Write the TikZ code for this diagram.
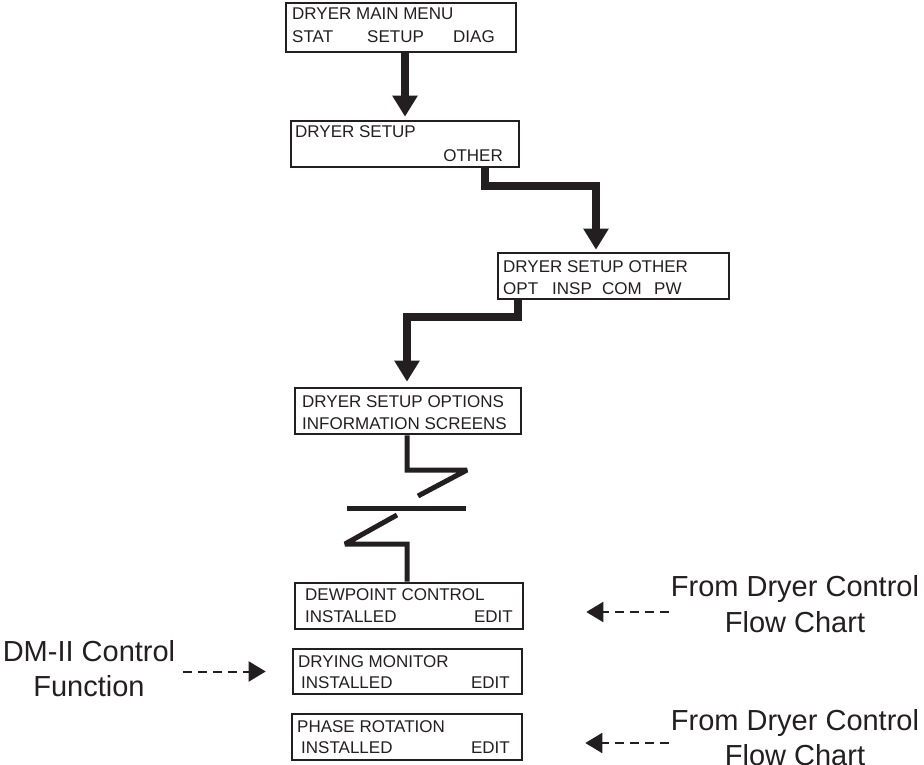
\documentclass[tikz,border=0pt]{standalone}
\usepackage{fontspec}
\setmainfont{Liberation Sans}
\usetikzlibrary{arrows.meta}
\definecolor{ink}{HTML}{231F20}

\begin{document}
\begin{tikzpicture}[x=1pt, y=-1pt,
  screen/.style={draw=ink, line width=2.6pt, rectangle, inner sep=0pt},
  txt/.style={font=\fontsize{17}{20}\selectfont, text=ink, inner sep=0pt, anchor=base west},
  txtR/.style={txt, anchor=base east},
  side/.style={font=\fontsize{29}{35.5}\selectfont, text=ink, inner sep=0pt, align=center},
  flow/.style={draw=ink, line width=8pt, line join=miter, -{Triangle[length=21pt,width=24pt]}},
  brk/.style={draw=ink, line width=5pt, line join=miter, miter limit=1.5},
  feed/.style={draw=ink, line width=2pt, dash pattern=on 9pt off 6pt, -{Triangle[length=17pt,width=20pt]}}
]
\useasboundingbox (0,0) rectangle (924,765);

% screens
\node[screen, minimum width=230, minimum height=49] (main) at (401,27.5) {};
\node[txt] (main1) at (292,20) {DRYER MAIN MENU};
\node[txt] (main2) at (292,43) {STAT};
\node[txt] (main3) at (367,43) {SETUP};
\node[txt] (main4) at (453,43) {DIAG};

\node[screen, minimum width=228, minimum height=46] (setup) at (405,144) {};
\node[txt] (setup1) at (295,138) {DRYER SETUP};
\node[txtR] (setup2) at (503,161) {OTHER};

\node[screen, minimum width=231, minimum height=46] (other) at (613.5,276) {};
\node[txt] (other1) at (503,272) {DRYER SETUP OTHER};
\node[txt] (other2) at (503,294) {OPT};
\node[txt] (other3) at (552,294) {INSP};
\node[txt] (other4) at (602,294) {COM};
\node[txt] (other5) at (654,294) {PW};

\node[screen, minimum width=226, minimum height=46] (options) at (408,411) {};
\node[txt] (options1) at (302,407) {DRYER SETUP OPTIONS};
\node[txt] (options2) at (302,429) {INFORMATION SCREENS};

\node[screen, minimum width=228, minimum height=46] (dew) at (409,606) {};
\node[txt] (dew1) at (305,600) {DEWPOINT CONTROL};
\node[txt] (dew2) at (305,622) {INSTALLED};
\node[txtR] (dew3) at (513,622) {EDIT};

\node[screen, minimum width=229, minimum height=45] (dm) at (407.5,671.5) {};
\node[txt] (dm1) at (298,667) {DRYING MONITOR};
\node[txt] (dm2) at (301,688) {INSTALLED};
\node[txtR] (dm3) at (510,688) {EDIT};

\node[screen, minimum width=230, minimum height=46] (phase) at (407,737) {};
\node[txt] (phase1) at (297,732) {PHASE ROTATION};
\node[txt] (phase2) at (301,753) {INSTALLED};
\node[txtR] (phase3) at (510,753) {EDIT};

% side notes
\node[side] (dmlab) at (89,668.5) {DM-II Control\\Function};
\node[side] (dewlab) at (795,604) {From Dryer Control\\Flow Chart};
\node[side] (phlab) at (795,737.5) {From Dryer Control\\Flow Chart};

% menu path
\coordinate (k1) at (596,186);
\coordinate (k2) at (407,317);
\draw[flow, shorten >=3pt] ([xshift=4pt]main.south) -- ([xshift=4pt]main.south |- setup.north);
\draw[flow, shorten >=2pt] ([xshift=80pt]setup.south) |- (k1) -- (k1 |- other.north);
\draw[flow, shorten >=5pt] ([xshift=-96pt]other.south) |- (k2) -- (k2 |- options.north);

% break
\coordinate (b1) at (467,470);
\coordinate (b2) at (418,496);
\coordinate (h1) at (347,508);
\coordinate (h2) at (466,508);
\coordinate (b3) at (397,515);
\coordinate (b4) at (345,544);
\coordinate (b5) at (407,544);
\draw[brk] ([xshift=-1pt]options.south) |- (b1) -- (b2);
\draw[brk] (h1) -- (h2);
\draw[brk] (b3) -- (b4) -- (b5) -- (b5 |- dew.north);

% dashed feeds
\draw[feed] ([xshift=8pt]dmlab.east |- dm.west) -- ([xshift=-26pt]dm.west);
\draw[feed] ([shift={(-2,8)}]dewlab.west) -- ([shift={(62,6)}]dew.east);
\draw[feed] ([shift={(-2,5.5)}]phlab.west) -- ([shift={(62,6)}]phase.east);

\end{tikzpicture}
\end{document}
